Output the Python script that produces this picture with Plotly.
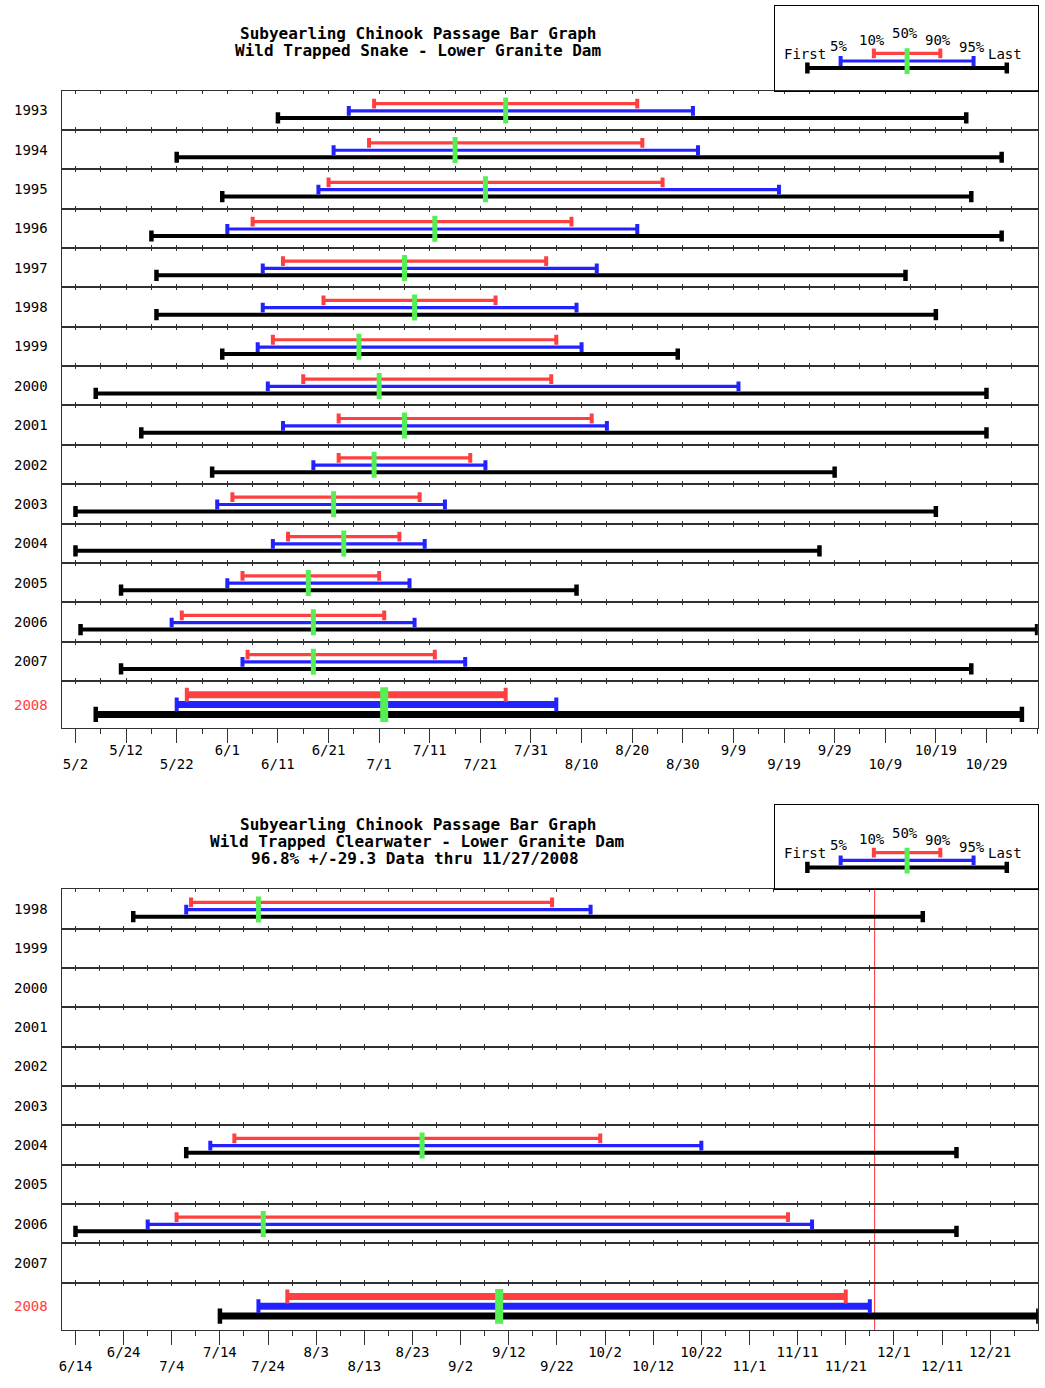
import plotly.graph_objects as go
from datetime import datetime, timedelta

W, H = 1045, 1388
YR = 2001
DAY_MS = 86400000

# ---------------- data (month/day) ----------------
snake_title = ["Subyearling Chinook Passage Bar Graph",
               "Wild Trapped Snake - Lower Granite Dam"]
snake_years = ["1993", "1994", "1995", "1996", "1997", "1998", "1999", "2000",
               "2001", "2002", "2003", "2004", "2005", "2006", "2007", "2008"]
snake_first = ["6/11", "5/22", "5/31", "5/17", "5/18", "5/18", "5/31", "5/6",
               "5/15", "5/29", "5/2", "5/2", "5/11", "5/3", "5/11", "5/6"]
snake_p05 = ["6/25", "6/22", "6/19", "6/1", "6/8", "6/8", "6/7", "6/9",
             "6/12", "6/18", "5/30", "6/10", "6/1", "5/21", "6/4", "5/22"]
snake_p10 = ["6/30", "6/29", "6/21", "6/6", "6/12", "6/20", "6/10", "6/16",
             "6/23", "6/23", "6/2", "6/13", "6/4", "5/23", "6/5", "5/24"]
snake_p50 = ["7/26", "7/16", "7/22", "7/12", "7/6", "7/8", "6/27", "7/1",
             "7/6", "6/30", "6/22", "6/24", "6/17", "6/18", "6/18", "7/2"]
snake_p90 = ["8/21", "8/22", "8/26", "8/8", "8/3", "7/24", "8/5", "8/4",
             "8/12", "7/19", "7/9", "7/5", "7/1", "7/2", "7/12", "7/26"]
snake_p95 = ["9/1", "9/2", "9/18", "8/21", "8/13", "8/9", "8/10", "9/10",
             "8/15", "7/22", "7/14", "7/10", "7/7", "7/8", "7/18", "8/5"]
snake_last = ["10/25", "11/1", "10/26", "11/1", "10/13", "10/19", "8/29", "10/29",
              "10/29", "9/29", "10/19", "9/26", "8/9", "11/8", "10/26", "11/5"]
snake_ticks = ["5/2", "5/12", "5/22", "6/1", "6/11", "6/21", "7/1", "7/11", "7/21", "7/31",
               "8/10", "8/20", "8/30", "9/9", "9/19", "9/29", "10/9", "10/19", "10/29"]

clw_title = ["Subyearling Chinook Passage Bar Graph",
             "Wild Trapped Clearwater - Lower Granite Dam",
             "96.8% +/-29.3 Data thru 11/27/2008"]
clw_years = ["1998", "1999", "2000", "2001", "2002", "2003",
             "2004", "2005", "2006", "2007", "2008"]
clw_first = ["6/26", None, None, None, None, None, "7/7", None, "6/14", None, "7/14"]
clw_p05 = ["7/7", None, None, None, None, None, "7/12", None, "6/29", None, "7/22"]
clw_p10 = ["7/8", None, None, None, None, None, "7/17", None, "7/5", None, "7/28"]
clw_p50 = ["7/22", None, None, None, None, None, "8/25", None, "7/23", None, "9/10"]
clw_p90 = ["9/21", None, None, None, None, None, "10/1", None, "11/9", None, "11/21"]
clw_p95 = ["9/29", None, None, None, None, None, "10/22", None, "11/14", None, "11/26"]
clw_last = ["12/7", None, None, None, None, None, "12/14", None, "12/14", None, "12/31"]
clw_ticks = ["6/14", "6/24", "7/4", "7/14", "7/24", "8/3", "8/13", "8/23", "9/2", "9/12",
             "9/22", "10/2", "10/12", "10/22", "11/1", "11/11", "11/21", "12/1", "12/11", "12/21"]
clw_data_thru = "11/27"

legend_keys = ["First", "5%", "10%", "50%", "90%", "95%", "Last"]

# ---------------- style ----------------
RED = "#ff4040"
BLUE = "#2222ff"
GREEN = "#55ee55"
BLACK = "#000000"
LINE = "#303030"
LW = 1.0
MONO = "DejaVu Sans Mono"
SMALL = dict(family=MONO, size=14, color="black")

NORMAL = dict(red=13.0, blue=20.3, black=27.3, g0=7.0, g1=33.0,
              w_rb=3.2, w_k=4, cap_h=7, cap_w=4, gw=5)
BIG = dict(red=13.8, blue=23.6, black=33.4, g0=6.3, g1=41.0,
           w_rb=7, w_k=7, cap_h=10, cap_w=4, gw=8)

traces, annotations, shapes = [], [], []
axes = {}
cnt = {"x": 0, "y": 0}


def new(kind):
    cnt[kind] += 1
    return cnt[kind]


def nm(kind, k):
    return kind if k == 1 else f"{kind}{k}"


def key(kind, k):
    return f"{kind}axis" if k == 1 else f"{kind}axis{k}"


def md(s):
    m, d = s.split("/")
    return f"{YR}-{int(m):02d}-{int(d):02d}"


def fx(px):
    return px / W


def fy(py):
    return 1 - py / H


def touch(xa, ya, x, y):
    # invisible point so that plotly draws the (otherwise empty) subplot / overlay axis
    traces.append(go.Scatter(x=[x], y=[y], xaxis=xa, yaxis=ya, mode="markers",
                             marker=dict(size=1, opacity=0), hoverinfo="skip",
                             showlegend=False))


def seg(xa, ya, x0, x1, y, color, w, cap_h, cap_w):
    traces.append(go.Scatter(
        x=[x0, x1], y=[y, y], xaxis=xa, yaxis=ya, mode="lines+markers",
        line=dict(color=color, width=w),
        marker=dict(symbol="line-ns", size=cap_h, color=color,
                    line=dict(color=color, width=cap_w)),
        hoverinfo="skip", showlegend=False))


def vseg(xa, ya, x, y0, y1, color, w):
    traces.append(go.Scatter(
        x=[x, x], y=[y0, y1], xaxis=xa, yaxis=ya, mode="lines",
        line=dict(color=color, width=w), hoverinfo="skip", showlegend=False))


def draw_bars(xa, ya, first, p05, p10, p50, p90, p95, last, st, conv):
    seg(xa, ya, conv(first), conv(last), st["black"], BLACK, st["w_k"], st["cap_h"] + 1, st["cap_w"] + 0.5)
    seg(xa, ya, conv(p05), conv(p95), st["blue"], BLUE, st["w_rb"], st["cap_h"], st["cap_w"])
    seg(xa, ya, conv(p10), conv(p90), st["red"], RED, st["w_rb"], st["cap_h"], st["cap_w"])
    vseg(xa, ya, conv(p50), st["g0"], st["g1"], GREEN, st["gw"])


def legend_box(top_px, bottom_px, left_px=774.0, right_px=1038.0):
    kx, ky = new("x"), new("y")
    x_first, step = 806.7, 33.33
    axes[key("x", kx)] = dict(domain=[fx(left_px), fx(right_px)], anchor=nm("y", ky),
                              range=[(left_px - x_first) / step, (right_px - x_first) / step],
                              showline=True, mirror=True, linecolor=BLACK, linewidth=1.2,
                              ticks="", showticklabels=False, showgrid=False, zeroline=False)
    axes[key("y", ky)] = dict(domain=[fy(bottom_px), fy(top_px)], anchor=nm("x", kx),
                              range=[bottom_px - top_px, 0],
                              showline=True, mirror=True, linecolor=BLACK, linewidth=1.2,
                              ticks="", showticklabels=False, showgrid=False, zeroline=False)
    xa, ya = nm("x", kx), nm("y", ky)
    idx = {k: i for i, k in enumerate(legend_keys)}
    st = dict(NORMAL)
    st.update(red=47.3, blue=55.0, black=62.0, g0=42.3, g1=68.0)
    draw_bars(xa, ya, "First", "5%", "10%", "50%", "90%", "95%", "Last", st, lambda k: idx[k])
    label_y = [48.0, 40.0, 34.0, 27.3, 34.5, 41.3, 48.0]
    for k, ly in zip(legend_keys, label_y):
        annotations.append(dict(x=idx[k], y=ly, xref=xa, yref=ya, text=k, showarrow=False,
                                xanchor="center", yanchor="middle", xshift=-2, font=SMALL))


def panel(title, title_pos, years, first, p05, p10, p50, p90, p95, last, ticks,
          top_px, row_h, last_h, tick0_px, ppd, left_px=58.7, right_px=1037.8):
    t0 = datetime.strptime(md(ticks[0]), "%Y-%m-%d")
    xr = [(t0 + timedelta(days=(left_px - tick0_px) / ppd)).strftime("%Y-%m-%d %H:%M:%S"),
          (t0 + timedelta(days=(right_px - tick0_px) / ppd)).strftime("%Y-%m-%d %H:%M:%S")]
    dom_x = [fx(left_px), fx(right_px)]
    common = dict(type="date", range=xr, showgrid=False, zeroline=False, fixedrange=True,
                  linecolor=LINE, linewidth=LW, tickcolor=LINE, tickwidth=1.4)
    first_xa = None
    n = len(years)
    for i, yr in enumerate(years):
        is_last = i == n - 1
        h = last_h if is_last else row_h
        rtop = top_px + i * row_h
        rbot = rtop + h
        kx, ky = new("x"), new("y")
        xa, ya = nm("x", kx), nm("y", ky)
        if first_xa is None:
            first_xa = xa
        if not is_last:
            axes[key("x", kx)] = dict(domain=dom_x, anchor=ya, showline=True, mirror="ticks",
                                      ticks="inside", ticklen=3, tickmode="linear",
                                      tick0=md(ticks[0]), dtick=5 * DAY_MS,
                                      showticklabels=False, **common)
        else:
            up_vals = [md(t) for j, t in enumerate(ticks) if j % 2 == 1]
            up_text = [t for j, t in enumerate(ticks) if j % 2 == 1]
            lo_vals = [md(t) for j, t in enumerate(ticks) if j % 2 == 0]
            lo_text = [t for j, t in enumerate(ticks) if j % 2 == 0]
            axes[key("x", kx)] = dict(domain=dom_x, anchor=ya, showline=True, mirror=True,
                                      ticks="outside", ticklen=14, tickmode="array",
                                      tickvals=up_vals, ticktext=up_text, tickfont=SMALL,
                                      ticklabelstandoff=-5, **common)
            k2 = new("x")
            axes[key("x", k2)] = dict(overlaying=xa, anchor=ya, side="bottom", showline=False,
                                      ticks="outside", ticklen=14, tickmode="array",
                                      tickvals=lo_vals, ticktext=lo_text, tickfont=SMALL,
                                      ticklabelstandoff=9, **common)
            touch(nm("x", k2), ya, md(ticks[0]), h / 2)
            k3 = new("x")
            axes[key("x", k3)] = dict(overlaying=xa, anchor=ya, side="bottom", showline=False,
                                      ticks="outside", ticklen=5, tickmode="linear",
                                      tick0=md(ticks[0]), dtick=5 * DAY_MS,
                                      showticklabels=False, **common)
            touch(nm("x", k3), ya, md(ticks[0]), h / 2)
            k4 = new("x")
            axes[key("x", k4)] = dict(overlaying=xa, anchor=ya, side="top", showline=False,
                                      ticks="inside", ticklen=3, tickmode="linear",
                                      tick0=md(ticks[0]), dtick=5 * DAY_MS,
                                      showticklabels=False, **common)
            touch(nm("x", k4), ya, md(ticks[0]), h / 2)
        axes[key("y", ky)] = dict(domain=[fy(rbot), fy(rtop)], anchor=xa, range=[h, 0],
                                  showline=True, mirror=True, linecolor=LINE, linewidth=LW,
                                  ticks="", showticklabels=False, showgrid=False,
                                  zeroline=False, fixedrange=True)
        touch(xa, ya, md(ticks[0]), h / 2)
        if first[i] is not None:
            st = BIG if is_last else NORMAL
            draw_bars(xa, ya, first[i], p05[i], p10[i], p50[i], p90[i], p95[i], last[i], st, md)
        annotations.append(dict(x=fx(28), y=fy((rtop + rbot) / 2), xref="paper", yref="paper",
                                text=yr, showarrow=False, xanchor="center", yanchor="middle",
                                font=dict(family=MONO, size=14,
                                          color=RED if is_last else "black")))
    for line, (cx, cy) in zip(title, title_pos):
        annotations.append(dict(x=fx(cx), y=fy(cy), xref="paper", yref="paper",
                                text=f"<b>{line}</b>", showarrow=False, xanchor="center",
                                yanchor="middle", font=dict(family=MONO, size=16, color="black")))
    bottom_px = top_px + (n - 1) * row_h + last_h
    return first_xa, bottom_px


# ---------------- panel 1 : Snake ----------------
P1_TOP = 90.6
panel(snake_title, [(416, 33.3), (416.5, 50.3)], snake_years, snake_first, snake_p05,
      snake_p10, snake_p50, snake_p90, snake_p95, snake_last, snake_ticks,
      top_px=P1_TOP, row_h=39.36, last_h=47.4, tick0_px=72.7, ppd=5.0756)
legend_box(6.0, P1_TOP)

# ---------------- panel 2 : Clearwater ----------------
P2_TOP = 889.4
xa2, p2_bottom = panel(clw_title, [(416, 824.0), (415.7, 841.5), (413.5, 858.3)], clw_years,
                       clw_first, clw_p05, clw_p10, clw_p50, clw_p90, clw_p95, clw_last,
                       clw_ticks, top_px=P2_TOP, row_h=39.33, last_h=47.4,
                       tick0_px=72.7, ppd=4.828)
legend_box(805.4, P2_TOP)

shapes.append(dict(type="line", xref=xa2, yref="paper", x0=md(clw_data_thru),
                   x1=md(clw_data_thru), y0=fy(p2_bottom), y1=fy(P2_TOP),
                   line=dict(color="#ff3030", width=1), layer="below"))

fig = go.Figure(data=traces)
fig.update_layout(width=W, height=H, autosize=False,
                  margin=dict(l=0, r=0, t=0, b=0, pad=0),
                  paper_bgcolor="white", plot_bgcolor="rgba(0,0,0,0)",
                  showlegend=False, annotations=annotations, shapes=shapes, **axes)
fig.write_html("out.html",
               config={"displayModeBar": False},
               post_script="document.body.style.margin='0';document.body.style.padding='0';")
